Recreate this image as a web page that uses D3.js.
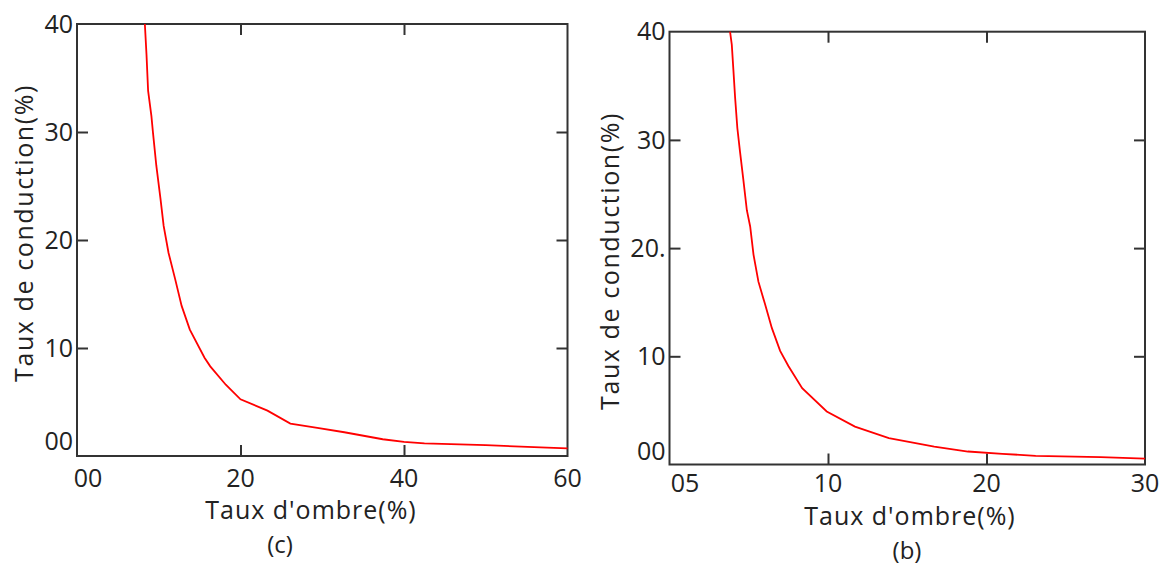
<!DOCTYPE html>
<html>
<head>
<meta charset="utf-8">
<script src="https://cdn.jsdelivr.net/npm/d3@7"></script>
<style>
  html, body { margin: 0; padding: 0; background: #fff; }
  svg { display: block; }
  text { font-family: "Open Sans", "DejaVu Sans", sans-serif; fill: #222; }
</style>
</head>
<body>
<svg id="chart" width="1170" height="569"></svg>
<script>
// ---- Panel (c) data ----
const shadowC = [8.3, 8.5, 8.7, 9.1, 9.3, 9.7, 10.2, 10.6, 11.2, 12.0, 12.8, 13.8, 15.6, 16.3, 18.2, 20.0, 23.3, 26.1, 29.4, 32.7, 37.4, 40.0, 42.5, 50.0, 57.5, 60.0];
const conductionC = [40, 37.2, 33.8, 31.5, 29.9, 26.9, 23.9, 21.3, 18.8, 16.4, 13.9, 11.7, 9.1, 8.3, 6.6, 5.25, 4.2, 3.0, 2.6, 2.2, 1.55, 1.3, 1.17, 1.0, 0.78, 0.7];
const xTickValuesC = [0, 20, 40, 60];
const xTickLabelsC = ["00", "20", "40", "60"];
const yTickValuesC = [0, 10, 20, 30, 40];
const yTickLabelsC = ["00", "10", "20", "30", "40"];

// ---- Panel (b) data ----
const shadowB = [3.82, 3.93, 4.03, 4.14, 4.28, 4.45, 4.66, 4.88, 5.09, 5.3, 5.61, 6.03, 6.46, 6.98, 7.5, 8.37, 9.92, 11.7, 13.84, 16.7, 18.83, 21.0, 23.1, 27.2, 30.0];
const conductionB = [40, 38.8, 36.5, 33.9, 31.1, 28.9, 26.3, 23.5, 22.0, 19.4, 16.9, 14.8, 12.6, 10.5, 9.1, 7.05, 4.9, 3.5, 2.44, 1.66, 1.2, 0.99, 0.8, 0.68, 0.55];
const xTickValuesB = [0, 10, 20, 30];
const xTickLabelsB = ["05", "10", "20", "30"];
const yTickValuesB = [0, 10, 20, 30, 40];
const yTickLabelsB = ["00", "10", "20.", "30", "40"];

const xTitle = "Taux d'ombre(%)";
const yTitle = "Taux de conduction(%)";

const svg = d3.select("#chart");

function panel(cfg) {
  const g = svg.append("g");
  const x = d3.scaleLinear().domain(cfg.xDomain).range([cfg.left, cfg.right]);
  const y = d3.scaleLinear().domain([0, 40]).range([cfg.bottom, cfg.top]);
  const tick = 11;

  // inner ticks via d3 axes
  const xInner = cfg.xVals.slice(1, -1);
  const yInner = cfg.yVals.slice(1, -1);
  const axStyle = sel => { sel.select(".domain").remove(); sel.selectAll("line").attr("stroke", "#333").attr("stroke-width", 2); sel.selectAll("text").remove(); };
  g.append("g").attr("transform", `translate(0,${cfg.bottom})`)
    .call(d3.axisBottom(x).tickValues(xInner).tickSizeInner(-tick).tickSizeOuter(0)).call(axStyle);
  g.append("g").attr("transform", `translate(0,${cfg.top})`)
    .call(d3.axisTop(x).tickValues(xInner).tickSizeInner(-tick).tickSizeOuter(0)).call(axStyle);
  g.append("g").attr("transform", `translate(${cfg.left},0)`)
    .call(d3.axisLeft(y).tickValues(yInner).tickSizeInner(-tick).tickSizeOuter(0)).call(axStyle);
  g.append("g").attr("transform", `translate(${cfg.right},0)`)
    .call(d3.axisRight(y).tickValues(yInner).tickSizeInner(-tick).tickSizeOuter(0)).call(axStyle);

  // frame
  g.append("rect")
    .attr("x", cfg.left).attr("y", cfg.top)
    .attr("width", cfg.right - cfg.left).attr("height", cfg.bottom - cfg.top)
    .attr("fill", "none").attr("stroke", "#333").attr("stroke-width", 2);

  // x tick labels
  g.selectAll(".xl").data(cfg.xVals).enter().append("text")
    .attr("x", (d, i) => i === 0 ? x(d) + cfg.x0Shift : x(d))
    .attr("y", cfg.bottom + cfg.xLabOff)
    .attr("dy", "0.35em")
    .attr("text-anchor", "middle")
    .attr("font-size", 25)
    .text((d, i) => cfg.xLabels[i]);

  // y tick labels
  g.selectAll(".yl").data(cfg.yVals).enter().append("text")
    .attr("x", cfg.left - 4)
    .attr("y", (d, i) => i === 0 ? y(d) + cfg.y0Shift : y(d))
    .attr("dy", "0.35em")
    .attr("text-anchor", "end")
    .attr("font-size", 25)
    .text((d, i) => cfg.yLabels[i]);

  // curve
  const pts = cfg.xs.map((v, i) => [v, cfg.ys[i]]);
  g.append("path")
    .datum(pts)
    .attr("fill", "none")
    .attr("stroke", "#ff0000")
    .attr("stroke-width", 1.8)
    .attr("d", d3.line().x(d => x(d[0])).y(d => y(d[1])));

  // titles
  g.append("text")
    .attr("x", cfg.xTitleX).attr("y", cfg.xTitleY).attr("dy", "0.35em")
    .attr("text-anchor", "middle").attr("font-size", 25).attr("letter-spacing", 1)
    .text(xTitle);
  g.append("text")
    .attr("transform", `translate(${cfg.yTitleX},${cfg.yTitleY}) rotate(-90)`)
    .attr("dy", "0.35em")
    .attr("text-anchor", "middle").attr("font-size", 25).attr("letter-spacing", 1.6)
    .text(yTitle);
  g.append("text")
    .attr("x", cfg.capX).attr("y", cfg.capY).attr("dy", "0.35em")
    .attr("text-anchor", "middle").attr("font-size", 24)
    .text(cfg.caption);
}

panel({
  left: 77, right: 567.5, top: 24, bottom: 456,
  xDomain: [0, 60],
  xVals: xTickValuesC, xLabels: xTickLabelsC,
  yVals: yTickValuesC, yLabels: yTickLabelsC,
  xs: shadowC, ys: conductionC,
  x0Shift: 11, y0Shift: -15, xLabOff: 22,
  xTitleX: 311, xTitleY: 510,
  yTitleX: 24, yTitleY: 233,
  capX: 280, capY: 545, caption: "(c)"
});

panel({
  left: 669.5, right: 1145, top: 31.7, bottom: 464.5,
  xDomain: [0, 30],
  xVals: xTickValuesB, xLabels: xTickLabelsB,
  yVals: yTickValuesB, yLabels: yTickLabelsB,
  xs: shadowB, ys: conductionB,
  x0Shift: 15.5, y0Shift: -13, xLabOff: 18.5,
  xTitleX: 910, xTitleY: 516,
  yTitleX: 610, yTitleY: 261,
  capX: 907, capY: 551, caption: "(b)"
});
</script>
</body>
</html>
